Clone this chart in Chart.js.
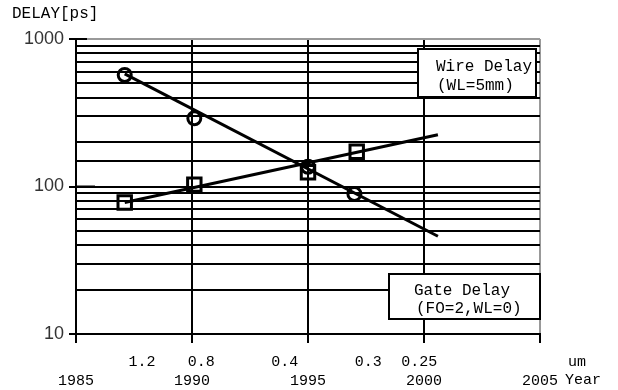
<!DOCTYPE html>
<html>
<head>
<meta charset="utf-8">
<script src="https://cdn.jsdelivr.net/npm/chart.js@4.4.1/dist/chart.umd.min.js"></script>
<style>
  html, body { margin: 0; padding: 0; background: #fff; }
  #wrap { width: 618px; height: 390px; position: relative; }
</style>
</head>
<body>
<div id="wrap"><canvas id="delayChart"></canvas></div>
<script>
// --- data ---
const yearTicks = [1985, 1990, 1995, 2000, 2005];
const delayTicks = [10, 100, 1000];

const wireYears = [1987.1, 1990.1, 1995.0, 1997.0];
const wireDelay = [570, 290, 136, 89];
const wireFitYears = [1987.1, 2000.6];
const wireFitDelay = [580, 46];

const gateYears = [1987.1, 1990.1, 1995.0, 1997.1];
const gateDelay = [78, 103, 125, 172];
const gateFitYears = [1987.1, 2000.6];
const gateFitDelay = [78, 224];

// feature size labels (um) under the axis, placed at year positions
const umYears = [1987.85, 1990.4, 1994.0, 1997.6, 1999.8, 2006.6];
const umLabels = ['1.2', '0.8', '0.4', '0.3', '0.25', 'um'];

const MONO = '"Liberation Mono", "DejaVu Sans Mono", monospace';
const SANS = '"Liberation Sans", Arial, sans-serif';

const pts = (xs, ys) => xs.map((x, i) => ({ x: x, y: ys[i] }));

// extra text + boxes drawn on top of the chart
const annotations = {
    id: 'annotations',
    afterDraw(chart) {
        const ctx = chart.ctx;
        const xs = chart.scales.x;
        const ys = chart.scales.y;
        ctx.save();

        // major y ticks reach a bit into the plot
        ctx.strokeStyle = '#000';
        ctx.lineWidth = 2;
        [[100, 19], [1000, 11]].forEach(([v, len]) => {
            const y = ys.getPixelForValue(v);
            ctx.beginPath();
            ctx.moveTo(xs.left, y);
            ctx.lineTo(xs.left + len, y);
            ctx.stroke();
        });

        ctx.fillStyle = '#000';
        ctx.font = '16px ' + MONO;
        ctx.textBaseline = 'middle';
        ctx.textAlign = 'left';
        ctx.fillText('DELAY[ps]', 12, 14);

        // um row
        ctx.font = '15px ' + MONO;
        ctx.textAlign = 'center';
        umYears.forEach((v, i) => {
            ctx.fillText(umLabels[i], xs.getPixelForValue(v), 362);
        });
        ctx.textAlign = 'left';
        ctx.fillText('Year', 565, 380);

        // legend boxes
        const box = (l, t, r, b, lines) => {
            ctx.fillStyle = '#fff';
            ctx.fillRect(l, t, r - l, b - t);
            ctx.strokeStyle = '#000';
            ctx.lineWidth = 2;
            ctx.strokeRect(l, t, r - l, b - t);
            ctx.fillStyle = '#000';
            ctx.font = '16px ' + MONO;
            lines.forEach(([txt, x, y]) => ctx.fillText(txt, x, y));
        };
        box(418, 49, 536, 97, [['Wire Delay', 436, 67], ['(WL=5mm)', 437, 86]]);
        box(389, 274, 540, 319, [['Gate Delay', 414, 291], ['(FO=2,WL=0)', 416, 309]]);

        ctx.restore();
    }
};

new Chart(document.getElementById('delayChart'), {
    type: 'scatter',
    data: {
        datasets: [
            {
                label: 'Wire Delay fit',
                data: pts(wireFitYears, wireFitDelay),
                showLine: true,
                borderColor: '#000',
                borderWidth: 3,
                pointRadius: 0
            },
            {
                label: 'Gate Delay fit',
                data: pts(gateFitYears, gateFitDelay),
                showLine: true,
                borderColor: '#000',
                borderWidth: 3,
                pointRadius: 0
            },
            {
                label: 'Wire Delay',
                data: pts(wireYears, wireDelay),
                pointStyle: 'circle',
                pointRadius: 6.5,
                borderColor: '#000',
                borderWidth: 3,
                backgroundColor: 'rgba(0,0,0,0)'
            },
            {
                label: 'Gate Delay',
                data: pts(gateYears, gateDelay),
                pointStyle: 'rect',
                pointRadius: 9.5,
                borderColor: '#000',
                borderWidth: 3,
                backgroundColor: 'rgba(0,0,0,0)'
            }
        ]
    },
    options: {
        responsive: true,
        maintainAspectRatio: false,
        animation: false,
        layout: { padding: { top: 39, right: 78, left: 0, bottom: 0 } },
        plugins: {
            legend: { display: false },
            tooltip: { enabled: false }
        },
        scales: {
            x: {
                type: 'linear',
                min: 1985,
                max: 2005,
                afterBuildTicks: (s) => { s.ticks = yearTicks.map(v => ({ value: v })); },
                afterFit: (s) => { s.height = 56; },
                ticks: {
                    color: '#000',
                    font: { family: MONO, size: 15 },
                    padding: 29,
                    maxRotation: 0,
                    autoSkip: false,
                    callback: (v) => String(v)
                },
                grid: {
                    color: (c) => c.tick && c.tick.value === 2005 ? '#999' : '#000',
                    lineWidth: 2,
                    tickColor: '#000',
                    tickLength: 9
                },
                border: { color: '#000', width: 2 }
            },
            y: {
                type: 'logarithmic',
                min: 10,
                max: 1000,
                afterFit: (s) => { s.width = 76; },
                ticks: {
                    color: '#333',
                    font: { family: SANS, size: 18 },
                    padding: 5,
                    autoSkip: false,
                    callback: (v) => delayTicks.includes(v) ? String(v) : ''
                },
                grid: {
                    color: (c) => c.tick && c.tick.value === 1000 ? '#999' : '#000',
                    lineWidth: 2,
                    tickColor: (c) => c.tick && delayTicks.includes(c.tick.value) ? '#000' : 'rgba(0,0,0,0)',
                    tickLength: 7
                },
                border: { color: '#000', width: 2 }
            }
        }
    },
    plugins: [annotations]
});
</script>
</body>
</html>
